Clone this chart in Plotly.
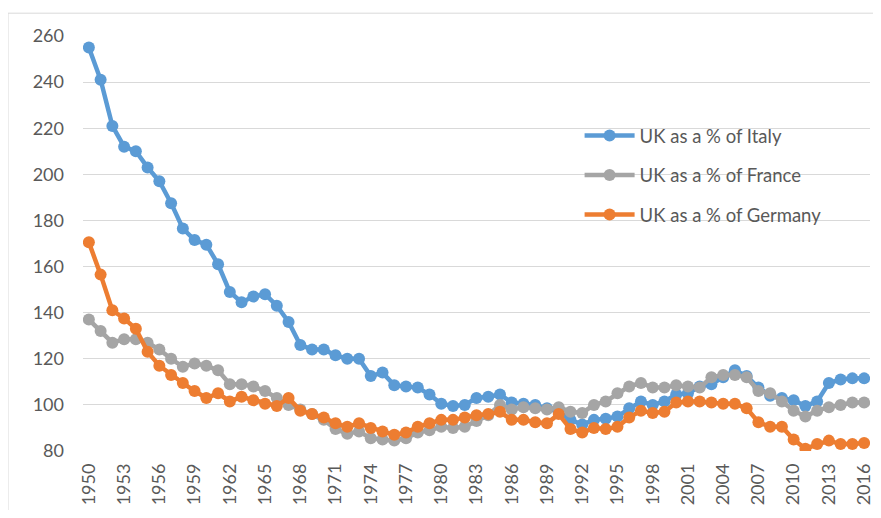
import plotly.graph_objects as go

years = list(range(1950, 2017))

uk_vs_italy = [255, 241, 221, 212, 210, 203, 197, 187.5, 176.5, 171.5,
               169.5, 161, 149, 144.5, 147, 148, 143, 136, 126, 124,
               124, 121.5, 120, 120, 112.5, 114, 108.5, 108, 107.5, 104.5,
               100.5, 99.5, 100, 103, 103.5, 104.5, 101, 100.5, 100, 98.5,
               97, 93.5, 91.5, 93.5, 94, 95, 98.5, 101.5, 100, 101.5,
               104.5, 105, 108, 109, 112, 115, 112.5, 107.5, 104, 103,
               102, 99.5, 101.5, 109.5, 111, 111.5, 111.5]

uk_vs_france = [137, 132, 127, 128.5, 128.5, 127, 124, 120, 116.5, 118,
                117, 115, 109, 109, 108, 106, 103, 100, 98, 96,
                93.5, 89.5, 87.5, 88.5, 85.5, 85, 84.5, 85.5, 88, 89,
                90.5, 90, 90.5, 93, 95.5, 100, 98, 99, 98.5, 98,
                99, 97, 96.5, 100, 101.5, 105, 108, 109.5, 107.5, 107.5,
                108.5, 108, 107.5, 112, 113, 113, 112, 106, 105, 101.5,
                97.5, 95, 97.5, 99, 100, 101, 101]

uk_vs_germany = [170.5, 156.5, 141, 137.5, 133, 123, 117, 113, 109.5, 106,
                 103, 105, 101.5, 103.5, 102, 100.5, 99.5, 103, 97.5, 96,
                 94.5, 92, 90.5, 92, 90, 88.5, 87, 88, 90.5, 92,
                 93.5, 93.5, 94.5, 95.5, 96, 97, 93.5, 93.5, 92.5, 92,
                 96, 89.5, 88, 90, 89.5, 90.5, 94.5, 97.5, 96.5, 97,
                 101, 101.5, 101.5, 101, 100.5, 100.5, 98.5, 92.5, 90.5, 90.5,
                 85, 81, 83, 84.5, 83, 83, 83.5]

series_names = ["UK as a % of Italy", "UK as a % of France", "UK as a % of Germany"]
series_colors = ["#5B9BD5", "#A5A5A5", "#ED7D31"]
x_ticks = list(range(1950, 2017, 3))
y_ticks = list(range(80, 261, 20))

fig = go.Figure()
for i, (name, vals, col) in enumerate(zip(series_names,
                                          [uk_vs_italy, uk_vs_france, uk_vs_germany],
                                          series_colors)):
    fig.add_trace(go.Scatter(
        x=years, y=vals, name=name, mode="lines+markers",
        line=dict(color=col, width=4.5),
        marker=dict(color=col, size=12),
        legendgroup=f"g{i}",
    ))

font_family = "Lato, 'Liberation Sans', sans-serif"
fig.update_layout(
    width=873, height=502,
    paper_bgcolor="white", plot_bgcolor="white",
    margin=dict(l=75, r=11, t=28, b=59, autoexpand=False),
    font=dict(family=font_family, color="#595959", size=18),
    showlegend=True,
    legend=dict(x=0.631, y=0.805, xanchor="left", yanchor="top",
                bgcolor="rgba(0,0,0,0)", font=dict(size=18.5, color="#595959"),
                itemwidth=50, tracegroupgap=12.5, traceorder="grouped"),
    xaxis=dict(range=[1949.5, 2016.5], tickmode="array", tickvals=x_ticks,
               ticktext=[str(t) for t in x_ticks], tickangle=-90,
               showgrid=False, zeroline=False, showline=False,
               ticks="", ticklabelstandoff=8, tickfont=dict(size=18)),
    yaxis=dict(range=[80, 260], tickmode="array", tickvals=y_ticks,
               showgrid=True, gridcolor="#D9D9D9", gridwidth=1,
               zeroline=False, showline=False, ticks="",
               ticklabelstandoff=18, tickfont=dict(size=18)),
    shapes=[dict(type="rect", xref="paper", yref="paper",
                 x0=-0.0953, x1=1.2, y0=-0.3, y1=1.055,
                 line=dict(color="#D9D9D9", width=1), fillcolor="rgba(0,0,0,0)",
                 layer="below")],
)

fig.write_html("out.html")
